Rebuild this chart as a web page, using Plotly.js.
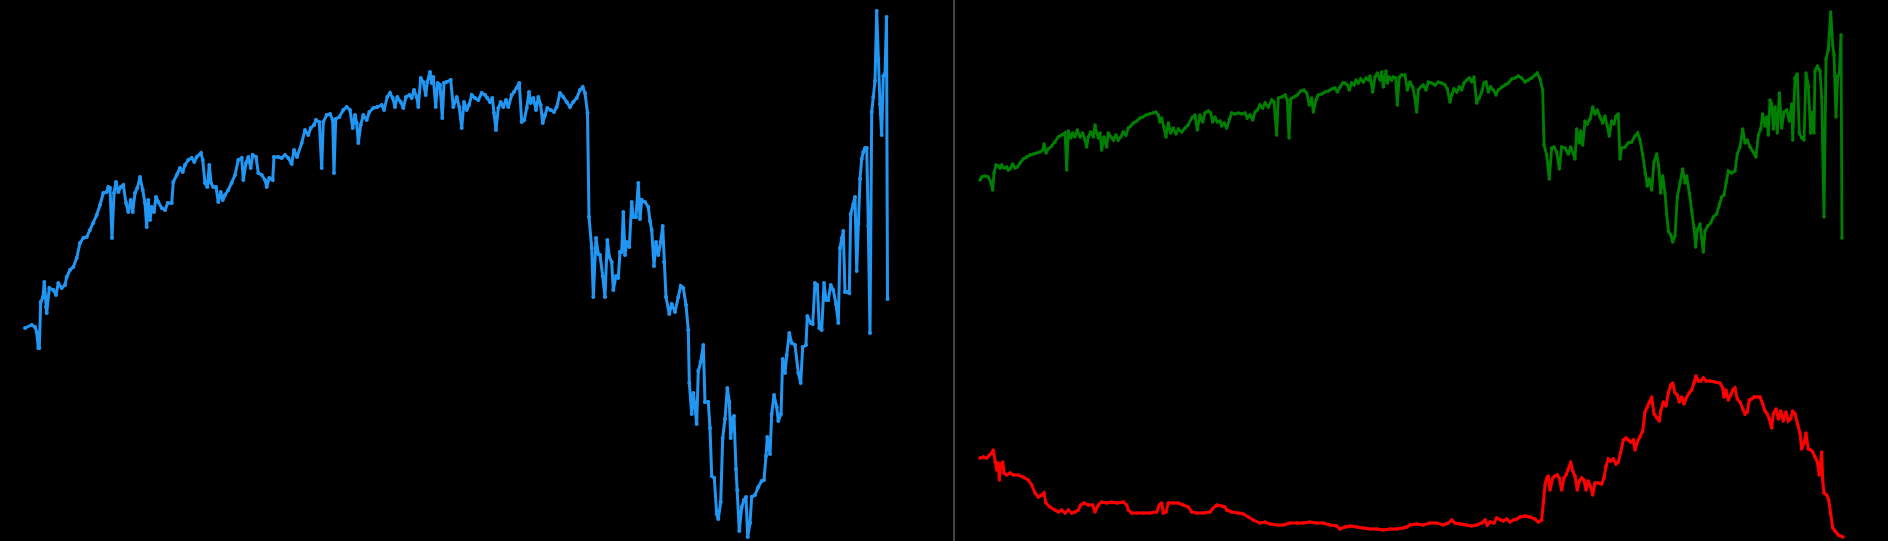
<!DOCTYPE html>
<html>
<head>
<meta charset="utf-8">
<script src="https://cdn.plot.ly/plotly-3.0.1.min.js"></script>
<style>html,body{margin:0;padding:0;background:#000;}#chart{width:1888px;height:541px;}</style>
</head>
<body>
<div id="chart"></div>
<script>
// Left panel series (time step, level)
const blueT = [0,6.7,10,11.7,13.3,14.3,15.7,18,19.3,21,21.7,24.3,28.3,31,33.3,36.7,40,41.7,45,48.3,51.7,55,58.3,61.7,65,68.3,71.7,75,78.3,81.7,83.3,85,87,89,91,93.3,95.7,98.3,101,103.3,105.7,107.7,110,112.3,115,117.7,120,121.7,123.3,125,126.7,129,131,133.3,136.7,140,142.7,146.7,148.3,151.7,155,157.7,160,163.3,166.7,169.3,171.7,176,177.7,180,182.3,184.3,186,188.3,191,193.3,195.7,197.7,200,203.3,206.7,210,213.3,216.7,218.3,221,223.3,225.7,227.7,231,233.3,236.7,240,241.7,244.3,247.7,249,253.3,256.7,260,263.3,266.7,269,272,276.7,280,283.3,285.7,289,291,294.3,296.7,298.3,301.7,305,307.7,309,310.7,314.3,318.3,321.7,325,327.7,330,331.7,333.3,335.7,338.3,341.7,344.3,348.3,352.3,356.7,359,362.3,365,367.7,370,372.3,375.7,378.3,381,384.3,386.7,389,391.7,393.3,395.7,398.3,400.7,402.3,405,406.7,408.3,410.7,412.7,415,417.3,419,421.7,425.7,428.3,431.7,434.3,436.7,439,441.7,444,446.7,450,453.3,456.7,460,462.3,465,467.3,469,471,473.3,475.7,478.3,481,483.3,486.7,489,491.7,494.3,496.7,499.3,501.7,504,505.7,508.3,511,513.3,515.7,517.7,520,522.3,525.7,529,531.7,535,538.3,541.7,545,548.3,551.7,555,557.7,560,562.5,564,566.7,568.3,571,573.3,575,577.7,580,582.3,584.3,586.7,588.3,591,593.3,595,596.7,598.3,600,601.7,604.3,606.7,608.3,611,613.3,615,616.7,620,623.3,625,626.7,629,631,633.3,635.7,637.7,639,641,644.3,646.7,650,653.3,655.7,658.3,661,663.3,664.3,666.7,668.3,670,671.7,673.3,675.7,678.3,680,683.3,685,686.7,689.3,691.7,693.3,695.7,697.7,700,702.3,704.3,705.7,707.7,709,711,712.3,714.3,716.7,719,721,722.7,725,726.7,730,733.3,736.7,739,741,742.3,745,746.7,749,751.7,753.3,756,757.7,760,761.7,764.3,766.7,770,773.3,775.7,777.7,781,782.3,785.7,787.7,790,792.3,794.3,796.7,799,801,803.3,805.7,808.3,811,813.3,815,816.7,818.3,820,822.3,824.3,825.7,828.3,830,831.7,833.3,835,836.7,838.3,840,841.7,843.3,845,846.7,848.3,850,851.7,853.3,855,856.7,858.3,860,861.5,862.5];
const blueV = [213,216,214,209,193,193,239,244,259,234,228,253,251,246,258,253,256,264,271,274,283,298,303,304,311,318,326,336,348,349,354,353,303,348,359,349,354,356,338,329,341,329,348,353,364,351,338,314,341,321,334,329,344,339,333,331,338,338,359,366,373,369,376,381,383,379,384,388,381,358,354,376,358,354,354,339,349,341,346,351,358,366,381,383,361,378,384,373,386,384,368,366,361,354,363,361,384,384,383,386,383,377,391,384,398,411,406,413,416,421,419,373,419,426,427,421,368,422,424,431,434,431,413,426,418,398,416,426,421,429,433,434,436,431,444,448,443,434,444,439,433,444,446,443,451,444,434,463,459,446,459,469,458,464,434,458,456,423,458,459,461,434,444,434,413,439,431,436,446,443,441,448,446,443,439,443,428,411,433,439,434,441,434,446,449,453,458,419,421,433,449,438,443,431,444,436,418,426,433,431,429,434,448,444,439,434,439,443,451,454,448,428,324,293,244,303,287,286,265,244,301,284,279,251,265,263,289,289,329,286,299,294,339,324,324,358,322,341,339,334,320,311,275,299,286,299,315,279,244,227,237,229,244,255,253,236,211,158,127,148,134,117,170,179,196,139,139,113,65,63,27,22,39,103,122,153,139,103,123,125,72,51,10,34,41,44,4,18,44,46,54,60,61,85,104,87,127,146,134,120,127,182,168,186,208,198,196,168,158,194,196,225,218,217,258,256,213,211,258,241,241,256,251,237,218,293,303,310,249,249,248,327,337,344,270,317,362,382,389,393,393,315,208,429,444,460,530,482,437,406,465,467,524,242];

// Right panel series (time step, level)
const greenT = [0,1.7,5,8.3,10.7,12.7,14,16,18.3,20,21.7,24,26.7,28.3,30,32.7,35,37.3,40,43.3,46.7,50,53.3,56.7,60,62.7,64,66,68.3,71.7,75,78.3,81.7,85,86.7,88.3,90.7,92.7,95,97.3,100,102.7,105,106.7,108.3,110.7,113.3,115,116.7,118.3,120,121.7,124,126.7,128.3,130.7,133.3,136,138.3,140.7,143.3,146,148.3,150.7,153.3,156.7,160,162.7,166,169.3,172.7,176,178.3,180,181.7,184,186,188.3,190.7,193.3,196,198.3,201.7,205,208.3,211.7,215,217.3,220,222.7,225,228.3,230.7,232.7,235,237.3,240,241.7,244,246.7,249.3,251.7,255,258.3,261.7,265,267.3,270,272.7,275,277.3,280,282.7,285,288.3,291.7,294,296.7,298.3,301.7,305,307.3,309,310.7,314,317.3,320.7,324,326.7,329.3,331.7,333.3,336,338.3,341.7,345,348.3,351.7,355,357.3,360,362.7,365,367.3,369.3,371.7,374,376,378.3,380.7,383.3,386,388.3,390,392.7,395,397.3,400,401.7,403.3,405,406,407.3,409.3,411.7,413.3,415.7,417.3,419.3,421.7,425,427.3,430,432.7,435,436.7,438.3,440.7,443.3,446,448.3,451.7,455,458.3,461.7,465,467.3,470,471.7,474,476.7,479.3,481.7,484,486.7,489.3,491.7,494,496.7,499.3,501.7,504,506,508.3,510.7,513.3,516,518.3,521.7,525,528.3,531.7,535,538.3,541.7,545,548.3,551.7,555,557.3,560,562.7,564,566.7,569.3,571.7,574,576.7,579.3,581.7,585,588.3,590.7,593.3,595,596.7,599.3,600.7,602.7,605,607.3,610,612.7,615,617.3,620,622.7,625,627.3,629.3,631.7,634,636,638.3,640,641.7,645,648.3,651.7,655,657.7,660,662.7,665,667.3,669.3,671.7,674,676.7,678.7,680.7,682.7,685,686.7,688.3,690.7,692.7,695,697.3,700,702.7,705,706.7,709.3,711.7,714,715.7,717.3,720,721.7,723.3,725,727.7,730.7,733.3,736.7,739.3,741.7,744,746,748.3,751.7,755,757.3,760,762.7,765,767.3,770,773.3,776,778.3,780.7,782.7,785,786.7,788.3,790,791.7,793.3,795,797.3,799.3,801.7,804,806.7,809.3,811.7,812.7,815,817.3,819.3,821.7,824,826,828.3,830.7,832.7,834,835,837.3,840,841.7,844,846,848.3,850.7,852.7,854,856,857.7,859.3,861,862];
const greenV = [361,364,365,364,359,351,368,376,375,373,376,373,374,371,372,377,373,374,378,382,384,386,387,388,389,391,397,388,392,395,399,404,406,408,371,410,403,408,404,411,404,408,401,394,404,409,404,416,408,403,408,391,404,394,408,404,401,406,401,404,409,406,413,415,418,420,423,424,426,427,428,429,426,419,423,414,404,418,408,413,407,412,409,413,416,423,426,411,426,419,428,430,428,419,424,419,420,415,418,413,422,428,427,428,427,428,423,426,421,429,431,436,433,438,434,441,439,406,443,444,446,441,403,442,444,446,450,451,448,436,443,429,441,446,447,449,450,452,453,449,454,458,458,456,451,458,456,461,458,462,459,463,461,465,449,464,468,461,469,454,464,470,458,464,461,464,463,436,464,466,466,451,459,454,443,429,451,454,456,451,459,458,456,459,458,456,452,439,446,452,449,454,451,458,461,463,459,464,438,443,449,458,459,449,454,451,446,451,454,456,458,462,463,465,463,459,461,463,466,468,462,451,396,386,362,393,394,389,372,394,393,387,394,387,382,412,398,410,396,420,417,422,434,427,431,424,418,425,415,405,420,417,425,427,382,393,394,398,399,405,408,401,386,368,355,362,351,379,387,375,348,365,348,327,310,306,299,305,344,358,372,358,365,348,330,313,294,311,317,303,289,310,315,318,324,327,337,344,346,358,370,368,370,387,394,412,398,401,394,389,384,406,412,427,415,424,406,441,437,412,434,408,448,413,429,431,420,437,401,463,467,408,403,401,468,455,408,429,408,470,475,470,444,324,482,491,529,496,486,424,465,467,506,303];
const redT = [0,3.3,6.7,9.3,11.7,13.3,15,16.7,18.3,19.3,20.7,22.7,24,26.7,30,33.3,38.3,43.3,48.3,51.7,55,58.3,61.7,64,66,70,75,78.3,81.7,85,88.3,91.7,95,98.3,100.7,104,108.3,112.7,115,118.3,121.7,126.7,131.7,136.7,143.3,146.7,148.3,151.7,156.7,163.3,170,176.7,179.3,181.7,183.3,186,188.3,193.3,198.3,203.3,208.3,211.7,216.7,223.3,230,233.3,236.7,241.7,245,246.7,251.7,258.3,263.3,268.3,273.3,280,285,290,296.7,303.3,310,316.7,323.3,330,336.7,343.3,350,356.7,360,365,370,376.7,383.3,390,396.7,403.3,410,416.7,423.3,426.7,430,436.7,443.3,450,456.7,463.3,468.3,471.7,475,480,486.7,491.7,496.7,501.7,505,507.3,510,514,516.7,520.7,523.3,526.7,530,533.3,536.7,540,545,550,555,558.3,561.7,563.3,565,566.7,568.3,570,572.7,575,577.3,579.3,581.7,584,586,588.3,590.7,592.7,595,597.3,599.3,601.7,604,606,608.3,610.7,612.7,615,618.3,621.7,624,626,628.3,630.7,633.3,636,638.3,640.7,643.3,646,648.3,650.7,653.3,655,657.3,660,662.7,665,667.3,669.3,671.7,674,676.7,679.3,680.7,683.3,686,688.3,690.7,692.7,695,697.3,699.3,701.7,704,706.7,709.3,711.7,714,716,718.3,720.7,723.3,726,730,735,740,742.7,744,746,748.3,750.7,752.7,755,757.3,760,762.7,765,767.3,769.3,771.7,774,777,780,782.7,785,787.3,789.3,791.7,793.3,796,798.3,800.7,803.3,806,808.3,810.7,812.7,815,817.3,820,821.7,824,826,828.3,830.7,832.7,835,837.3,839.3,841.7,842.7,844,846.7,848.7,850.7,852.7,855,858.3,863];
const redV = [83,84,83,86,88,91,79,71,78,61,76,79,68,66,68,66,66,64,61,56,48,44,46,48,38,34,31,29,31,28,31,28,29,31,36,38,36,36,29,36,39,38,39,38,39,36,31,28,28,28,28,29,36,38,28,29,38,38,38,36,34,29,28,28,29,33,36,35,34,31,29,28,27,24,21,18,19,17,16,16,18,18,18,19,18,18,16,15,12,14,15,14,13,12,12,11,12,12,13,14,16,17,16,18,18,16,18,21,18,17,16,15,16,18,21,16,19,18,23,21,20,22,19,21,22,24,25,24,22,19,21,38,56,63,65,51,63,65,66,63,51,63,66,72,79,70,65,51,60,63,61,51,60,54,46,58,58,57,63,75,82,80,82,77,79,89,101,103,101,99,101,91,99,104,110,129,134,139,144,127,123,120,130,139,135,148,156,158,148,146,139,144,137,144,148,151,158,165,160,160,163,160,160,159,158,153,144,151,141,146,151,153,142,139,132,127,129,141,142,144,144,144,137,130,127,122,113,127,132,122,130,120,129,120,122,130,127,117,108,92,98,108,92,91,89,84,79,66,89,61,48,46,41,27,13,10,6,4];

const blueLine = {color: '#2196F3', width: 3};
const greenLine = {color: '#008000', width: 2.8};
const redLine = {color: '#FF0000', width: 3};

const traces = [
  {x: blueT, y: blueV, type: 'scatter', mode: 'lines+markers', line: blueLine,
   marker: {color: '#2196F3', size: 4}, xaxis: 'x', yaxis: 'y', hoverinfo: 'skip'},
  {x: greenT, y: greenV, type: 'scatter', mode: 'lines+markers', line: greenLine,
   marker: {color: '#008000', size: 3.5}, xaxis: 'x2', yaxis: 'y2', hoverinfo: 'skip'},
  {x: redT, y: redV, type: 'scatter', mode: 'lines+markers', line: redLine,
   marker: {color: '#FF0000', size: 3.5}, xaxis: 'x2', yaxis: 'y2', hoverinfo: 'skip'}
];

const hidden = {visible: false, showgrid: false, zeroline: false, fixedrange: true};

const layout = {
  width: 1888, height: 541,
  margin: {l: 0, r: 0, t: 0, b: 0, pad: 0},
  paper_bgcolor: '#000', plot_bgcolor: '#000',
  showlegend: false,
  xaxis: Object.assign({domain: [0, 0.5], range: [-25, 919]}, hidden),
  yaxis: Object.assign({domain: [0, 1], range: [0, 541]}, hidden),
  xaxis2: Object.assign({domain: [0.5, 1], range: [-36, 908], anchor: 'y2'}, hidden),
  yaxis2: Object.assign({domain: [0, 1], range: [0, 541], anchor: 'x2'}, hidden),
  shapes: [{type: 'line', xref: 'paper', yref: 'paper', x0: 954/1888, x1: 954/1888, y0: 0, y1: 1,
            line: {color: '#5a5a5a', width: 1.5}}]
};

Plotly.newPlot('chart', traces, layout, {displayModeBar: false, staticPlot: true});
</script>
</body>
</html>
